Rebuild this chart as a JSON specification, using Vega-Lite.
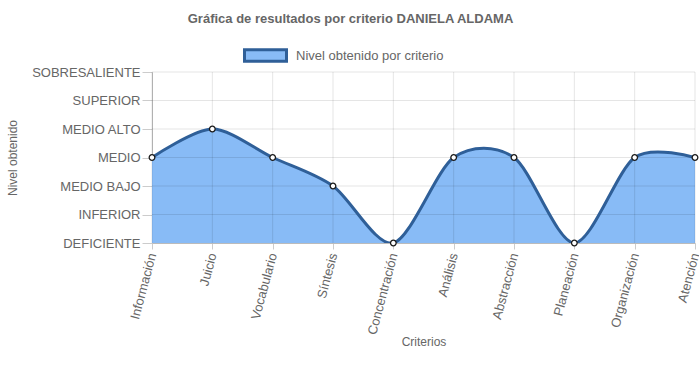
{
  "$schema": "https://vega.github.io/schema/vega-lite/v6.json",
  "width": 543,
  "height": 171,
  "autosize": "none",
  "padding": {"left": 152, "top": 72, "right": 4, "bottom": 139},
  "background": "white",
  "title": {
    "text": "Gráfica de resultados por criterio DANIELA ALDAMA",
    "font": "Liberation Sans",
    "fontSize": 13,
    "fontWeight": "bold",
    "color": "#666666",
    "anchor": "middle",
    "frame": "group",
    "dx": -73,
    "offset": 7
  },
  "config": {
    "view": {"stroke": null},
    "font": "Liberation Sans",
    "axis": {
      "labelFont": "Liberation Sans",
      "titleFont": "Liberation Sans",
      "labelColor": "#666666",
      "titleColor": "#666666",
      "labelFontSize": 13,
      "titleFontSize": 12,
      "titleFontWeight": "normal",
      "grid": false,
      "labelOverlap": false,
      "tickColor": "#cccccc",
      "domainColor": "#bbbbbb"
    },
    "axisY": {
      "tickCount": 6,
      "values": [0, 1, 2, 3, 4, 5, 6],
      "labelExpr": "['DEFICIENTE','INFERIOR','MEDIO BAJO','MEDIO','MEDIO ALTO','SUPERIOR','SOBRESALIENTE'][datum.value]",
      "labelOverlap": false,
      "tickSize": 10,
      "labelPadding": 2,
      "titlePadding": 12
    }
  },
  "datasets": {
    "niveles": [
      {"nivel": 1}, {"nivel": 2}, {"nivel": 3}, {"nivel": 4}, {"nivel": 5}, {"nivel": 6}
    ]
  },
  "data": {
    "values": [
      {"criterio": "Información", "nivel": 3},
      {"criterio": "Juicio", "nivel": 4},
      {"criterio": "Vocabulario", "nivel": 3},
      {"criterio": "Síntesis", "nivel": 2},
      {"criterio": "Concentración", "nivel": 0},
      {"criterio": "Análisis", "nivel": 3},
      {"criterio": "Abstracción", "nivel": 3},
      {"criterio": "Planeación", "nivel": 0},
      {"criterio": "Organización", "nivel": 3},
      {"criterio": "Atención", "nivel": 3}
    ]
  },
  "layer": [
    {
      "mark": {"type": "area", "interpolate": "cardinal", "tension": 0.13, "clip": true, "opacity": 1},
      "encoding": {
        "x": {
          "field": "criterio",
          "type": "ordinal",
          "sort": null,
          "scale": {"type": "point", "padding": 0},
          "axis": {
            "title": "Criterios",
            "labelAngle": -75,
            "labelAlign": "right",
            "labelBaseline": "middle",
            "labelPadding": 4,
            "labelOverlap": false,
            "tickSize": 6,
            "titleY": 102,
            "titleBaseline": "alphabetic"
          }
        },
        "y": {
          "field": "nivel",
          "type": "quantitative",
          "title": "Nivel obtenido",
          "scale": {"domain": [0, 6], "nice": false}
        },
        "color": {
          "datum": "Nivel obtenido por criterio",
          "type": "nominal",
          "scale": {"range": ["#88bbf6"]},
          "legend": {
            "title": null,
            "orient": "none",
            "legendX": 91,
            "legendY": -39,
            "padding": 0,
            "symbolType": "M-1,-0.27L1,-0.27L1,0.27L-1,0.27Z",
            "symbolSize": 1764,
            "symbolStrokeWidth": 3,
            "symbolStrokeColor": "#2f5f98",
            "symbolOpacity": 1,
            "labelFont": "Liberation Sans",
            "labelFontSize": 13,
            "labelColor": "#666666",
            "labelOffset": 8,
            "encode": {
              "symbols": {"update": {"stroke": {"value": "#2f5f98"}, "strokeWidth": {"value": 3}, "opacity": {"value": 1}}}
            }
          }
        }
      }
    },
    {
      "data": {"name": "niveles"},
      "mark": {"type": "rule", "color": "#000000", "opacity": 0.1, "strokeWidth": 1},
      "encoding": {
        "y": {"field": "nivel", "type": "quantitative", "title": "Nivel obtenido"}
      }
    },
    {
      "mark": {"type": "rule", "color": "#000000", "opacity": 0.1, "strokeWidth": 1},
      "encoding": {
        "x": {"field": "criterio", "type": "ordinal", "sort": null}
      }
    },
    {
      "mark": {"type": "line", "interpolate": "cardinal", "tension": 0.13, "clip": true, "color": "#2f5f98", "strokeWidth": 3},
      "encoding": {
        "x": {"field": "criterio", "type": "ordinal", "sort": null},
        "y": {"field": "nivel", "type": "quantitative", "title": "Nivel obtenido"}
      }
    },
    {
      "mark": {"type": "point", "filled": false, "fill": "white", "fillOpacity": 1, "stroke": "#1a1a1a", "strokeWidth": 1.3, "size": 32, "opacity": 1},
      "encoding": {
        "x": {"field": "criterio", "type": "ordinal", "sort": null},
        "y": {"field": "nivel", "type": "quantitative", "title": "Nivel obtenido"}
      }
    }
  ]
}
